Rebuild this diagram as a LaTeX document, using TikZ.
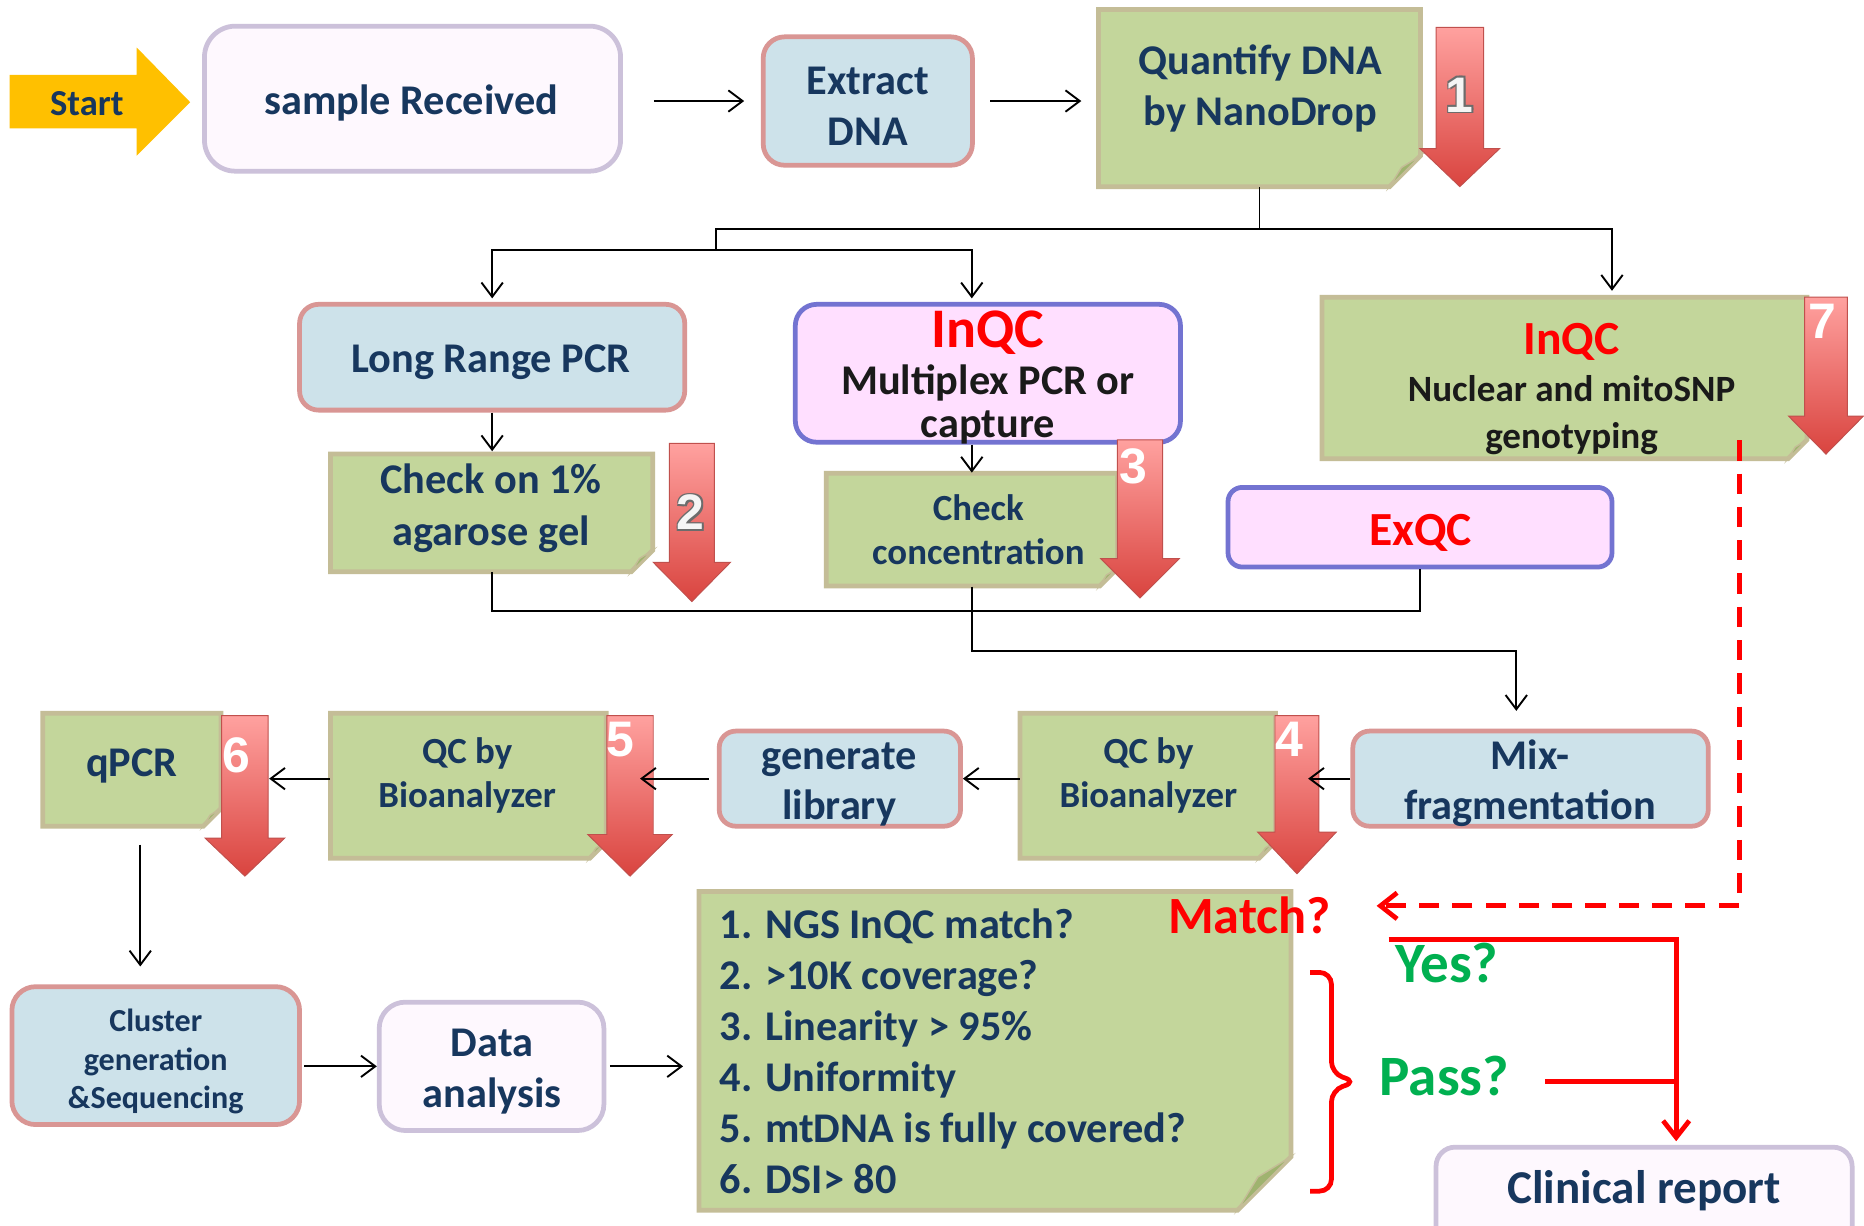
\documentclass[tikz,border=0pt]{standalone}
\usepackage{fontspec}
\setmainfont{Carlito}
\newfontfamily\numfont{Liberation Sans}
\usetikzlibrary{arrows.meta, fit, calc}
\definecolor{navy}{HTML}{17375E}
\definecolor{startfill}{HTML}{FFC000}
\definecolor{notefill}{HTML}{C3D69B}
\definecolor{noteedge}{HTML}{C4BD97}
\definecolor{foldfill}{HTML}{9FB36F}
\definecolor{bluefill}{HTML}{CDE2EA}
\definecolor{blueedge}{HTML}{D99694}
\definecolor{lavfill}{HTML}{FEF8FE}
\definecolor{lavedge}{HTML}{CCC1DA}
\definecolor{pinkfill}{HTML}{FFDFFF}
\definecolor{pinkedge}{HTML}{7373D1}
\definecolor{arrtop}{HTML}{FFA19F}
\definecolor{arrbot}{HTML}{D9443F}
\definecolor{arrline}{HTML}{C0504D}
\definecolor{grn}{HTML}{00B050}
\definecolor{darktxt}{HTML}{1A1A1A}
\newcommand\fsz[2]{\fontsize{#1}{#2}\selectfont}
\tikzset{
 conn/.style={line width=0.8pt, -{Straight Barb[length=6pt,width=9pt]}},
 plain/.style={line width=0.8pt},
 redln/.style={draw=red, line width=2pt},
 redarr/.style={redln, -{Straight Barb[length=7pt,width=11pt]}},
 bluebox/.style={draw=blueedge, fill=bluefill, line width=2pt, inner sep=0pt},
 lavbox/.style={draw=lavedge, fill=lavfill, line width=2pt, inner sep=0pt},
 pinkbox/.style={draw=pinkedge, fill=pinkfill, line width=2pt, inner sep=0pt},
 notestyle/.style={draw=noteedge, fill=notefill, line width=2pt, line join=miter},
 foldstyle/.style={fill=foldfill, draw=noteedge, line width=0.6pt},
 lbl/.style={font=\bfseries\fsz{17.8pt}{21.5pt}, text=navy, align=center, inner sep=0pt, yshift=-1.5pt},
 smlbl/.style={font=\bfseries\fsz{15.5pt}{18.5pt}, text=navy, align=center, inner sep=0pt},
 redlbl/.style={font=\bfseries\fsz{20pt}{24pt}, text=red, inner sep=0pt, yshift=-1.5pt},
 blklbl/.style={font=\bfseries\fsz{15.6pt}{19.5pt}, text=darktxt, inner sep=0pt},
 grnlbl/.style={font=\bfseries\fsz{24pt}{28pt}, text=grn, inner sep=0pt},
 numtxt/.style={font=\numfont\bfseries\fsz{21pt}{24pt}, text=white, inner sep=0pt}
}
\newcommand\notebox[6]{%
  \node[fit={(#2,#3) (#4,#5)}, inner sep=0pt] (#1) {};
  \filldraw[notestyle] (#2,#3) -- (#4,#3) -- (#4,#5-#6) -- (#4-#6,#5) -- (#2,#5) -- cycle;
  \filldraw[foldstyle] (#4,#5-#6) -- (#4-#6,#5) -- (#4-0.62*#6,#5-0.62*#6) -- cycle;
}
\newcommand\redarrow[6]{%
  \shadedraw[top color=arrtop, bottom color=arrbot, draw=arrline, line width=0.4pt]
   (#1-#5,#2) -- (#1+#5,#2) -- (#1+#5,#3) -- (#1+#6,#3) -- (#1,#4) -- (#1-#6,#3) -- (#1-#5,#3) -- cycle;
}
\newcommand\onum[4]{%
  \foreach \dx/\dy [count=\k] in {0.7/0.7,-0.7/0.7,0.7/-0.7,-0.7/-0.7}{%
    \node[numtxt, text=gray!85!black] (#1-\k) at ([xshift=\dx pt, yshift=\dy pt]#2,#3) {#4};}
  \node[numtxt, text=white!92!gray] (#1) at (#2,#3) {#4};
}
\begin{document}
\begin{tikzpicture}[x=0.5pt, y=-0.5pt]
\useasboundingbox (0,0) rectangle (1568,1031);
\clip (0,0) rectangle (1568,1031);
\fill[white] (0,0) rectangle (1568,1031);

% start arrow
\fill[startfill] (8,63) -- (115,63) -- (115,40) -- (160,86) -- (115,131) -- (115,108) -- (8,108) -- cycle;

% boxes
\node[lavbox, rounded corners=13pt, fit={(172,22) (522,144)}] (sr) {};
\node[bluebox, rounded corners=9pt, fit={(642,31) (818,139)}] (ex) {};
\notebox{qd}{924}{8}{1195}{157}{26}
\node[bluebox, rounded corners=8pt, fit={(252,256) (576,345)}] (lr) {};
\node[pinkbox, rounded corners=9pt, fit={(669,256) (993,372)}] (mp) {};
\notebox{ag}{278}{382}{549}{481}{18}
\notebox{cc}{695}{398}{940}{493}{15}
\notebox{nuc}{1112}{250}{1520}{386}{16}
\node[pinkbox, rounded corners=6pt, fit={(1033,410) (1356,477)}] (exq) {};
\node[bluebox, rounded corners=7pt, fit={(1138,615) (1437,695)}] (mix) {};
\notebox{qc4}{858}{600}{1073}{722}{14}
\node[bluebox, rounded corners=7pt, fit={(605,615) (808,695)}] (gl) {};
\notebox{qc5}{278}{600}{510}{722}{14}
\notebox{qp}{36}{600}{186}{695}{15}
\node[bluebox, rounded corners=10pt, fit={(10,830) (252,946)}] (cl) {};
\node[lavbox, rounded corners=11pt, fit={(319,843) (508,951)}] (da) {};
\notebox{lst}{588}{750}{1086}{1018}{45}
\node[lavbox, rounded corners=8pt, fit={(1208,965) (1558,1050)}] (cr) {};

% red arrows
\redarrow{1228}{23}{125}{157}{20}{33.5}
\redarrow{582}{373}{473}{506}{19}{32.5}
\redarrow{959}{370}{470}{503}{19}{33}
\redarrow{1536}{250}{350}{382}{18}{31.5}
\redarrow{1091}{602}{700}{735}{18.5}{33}
\redarrow{530}{602}{702}{737}{19.5}{35.5}
\redarrow{206}{602}{705}{737}{19.5}{33.5}

% texts
\node[lbl, font=\bfseries\fsz{15.4pt}{18pt}, yshift=1.5pt] (startt) at (73,87) {Start};
\node[lbl] (srt) at (346,84) {sample Received};
\node[lbl] (ext) at (730,86.5) {Extract\\DNA};
\node[lbl] (qdt) at (1060,71.5) {Quantify DNA\\by NanoDrop};
\node[lbl] (lrt) at (413,302) {Long Range PCR};
\node[redlbl, font=\bfseries\fsz{23.5pt}{26pt}] (mpt1) at (831,277) {InQC};
\node[blklbl, font=\bfseries\fsz{17.8pt}{21pt}, yshift=-1pt] (mpt2) at (831,320) {Multiplex PCR or};
\node[blklbl, font=\bfseries\fsz{17.8pt}{21pt}, yshift=-1.5pt] (mpt3) at (831,357) {capture};
\node[lbl] (agt) at (413,424.5) {Check on 1\%\\agarose gel};
\node[smlbl] (cct) at (823,445.5) {Check\\concentration};
\node[redlbl] (nuct1) at (1322,285) {InQC};
\node[blklbl] (nuct2) at (1322,327) {Nuclear and mitoSNP};
\node[blklbl, yshift=-1.5pt] (nuct3) at (1322,366) {genotyping};
\node[redlbl] (exqt) at (1195,445) {ExQC};
\node[lbl, font=\bfseries\fsz{17.8pt}{21pt}] (mixt) at (1287,656) {Mix-\\fragmentation};
\node[smlbl] (qc4t) at (966,652.5) {QC by\\Bioanalyzer};
\node[lbl, font=\bfseries\fsz{17.8pt}{21pt}] (glt) at (706,657) {generate\\library};
\node[smlbl] (qc5t) at (393,652.5) {QC by\\Bioanalyzer};
\node[lbl] (qpt) at (111,641) {qPCR};
\node[lbl, font=\bfseries\fsz{13.5pt}{16.25pt}] (clt) at (131,890) {Cluster\\generation\\\&Sequencing};
\node[lbl] (dat) at (414,898.5) {Data\\analysis};
\node[lbl, align=left, anchor=west, yshift=1.5pt] (lstt) at (605,884.5) {1. NGS InQC match?\\2. >10K coverage?\\3. Linearity > 95\%\\4. Uniformity\\5. mtDNA is fully covered?\\6. DSI> 80};
\node[redlbl, font=\bfseries\fsz{22pt}{26pt}, yshift=1.5pt] (mt) at (1051,770) {Match?};
\node[grnlbl] (yes) at (1217,810) {Yes?};
\node[grnlbl] (pass) at (1215,905) {Pass?};
\node[lbl, font=\bfseries\fsz{19.8pt}{23pt}] (crt) at (1383,999) {Clinical report};

% numbers
\onum{n1}{1228}{80}{1}
\onum{n2}{581}{431}{2}
\node[numtxt] (n3) at (953,392) {3};
\node[numtxt] (n7) at (1533,270) {7};
\node[numtxt] (n4) at (1085,622) {4};
\node[numtxt] (n5) at (522,622) {5};
\node[numtxt] (n6) at (199,635) {6};

% connectors
\coordinate (j2) at (602,193);
\coordinate (j3) at (602,210);
\draw[conn, shorten <=13pt, shorten >=7pt] (sr.east |- ex.west) -- (ex.west);
\draw[conn, shorten <=6.5pt, shorten >=7pt] (ex.east) -- (ex.east -| qd.west);
\draw[plain] (qd.south) |- (j2) -- (j3);
\draw[conn, shorten >=2.5pt] (qd.south |- j2) -| ([xshift=20pt]nuc.north);
\draw[conn, shorten >=1.5pt] (j3) -| (lr.north);
\draw[conn, shorten >=1.5pt] (j3) -| (cc.north |- mp.north);
\draw[conn, shorten >=1pt] (lr.south) -- (lr.south |- ag.north);
\draw[conn] (cc.north |- mp.south) -- (cc.north);
\draw[plain] (ag.south) |- ([yshift=-17.5pt]exq.south) -- (exq.south);
\draw[conn, shorten >=7.5pt] (cc.south) -- ++(0,-27pt) -| ([xshift=-6pt]mix.north);
\draw[conn, shorten >=13.5pt] (mix.west) -- (mix.west -| qc4.east);
\draw[conn] (qc4.west |- gl.east) -- (gl.east);
\draw[conn, shorten <=3.5pt, shorten >=14pt] (gl.west) -- (gl.west -| qc5.east);
\draw[conn, shorten >=20pt] (qc5.west |- gl.west) -- (gl.west -| qp.east);
\coordinate (qpo) at ([xshift=3.5pt]qp.south);
\draw[conn, shorten <=7.5pt, shorten >=7.5pt] (qpo) -- (qpo |- cl.north);
\draw[conn, shorten <=1pt] (cl.east |- da.west) -- (da.west);
\draw[conn, shorten <=1.5pt, shorten >=6.5pt] (da.east) -- (da.east -| lst.west);

% red connectors
\coordinate (ds) at ([xshift=73.5pt, yshift=8pt]nuc.south);
\coordinate (de) at (1158,762);
\draw[redarr, dash pattern=on 8.5pt off 5.5pt] (ds) |- (de);
\coordinate (ys) at (1168,790);
\coordinate (crin) at ([xshift=13.5pt]cr.north);
\draw[redarr, shorten >=1.5pt] (ys) -| (crin);
\coordinate (pl) at ([xshift=15pt, yshift=-2.5pt]pass.east);
\draw[redln] (pl) -- (pl -| crin);
\draw[redln, rounded corners=5pt] (1102,818) -- (1120,818) -- (1120,903) -- (1141,910) -- (1120,917) -- (1120,1002) -- (1102,1002);
\end{tikzpicture}
\end{document}
